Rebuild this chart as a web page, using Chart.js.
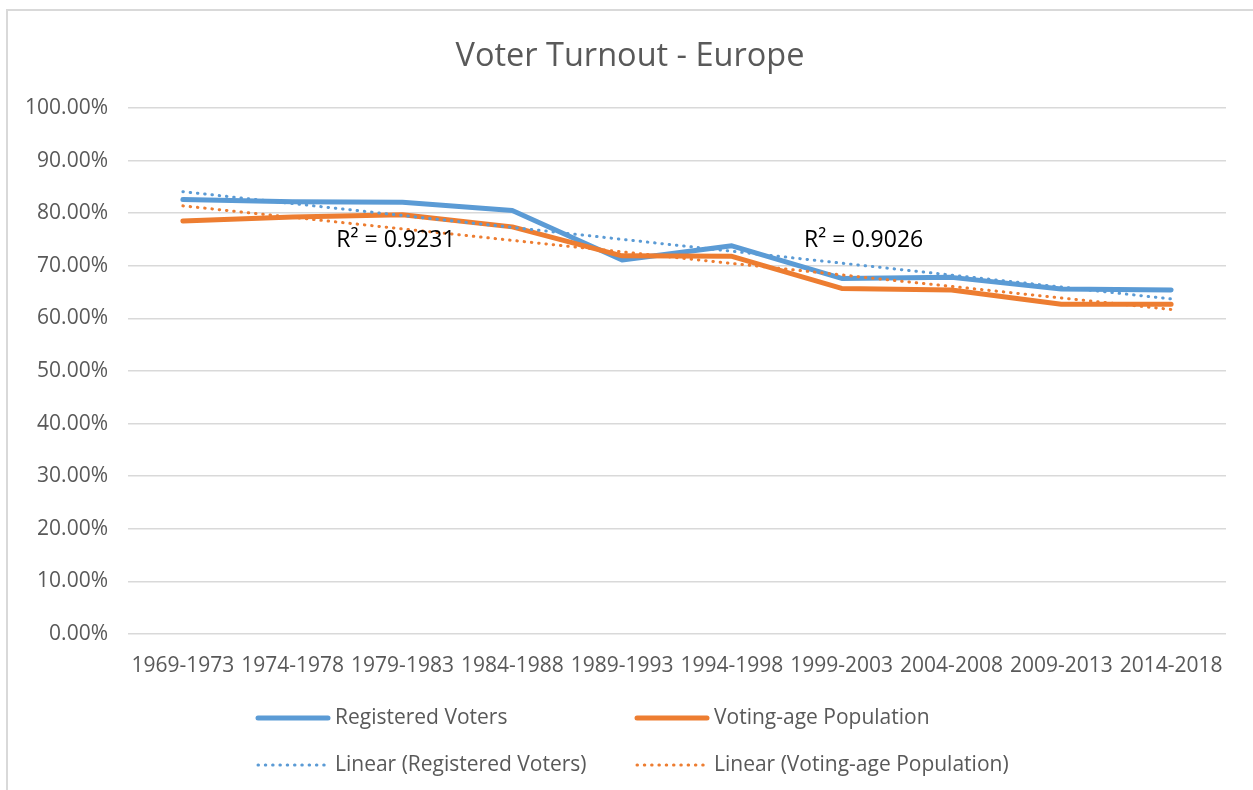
<!DOCTYPE html>
<html>
<head>
<meta charset="utf-8">
<script src="https://cdn.jsdelivr.net/npm/chart.js@4.4.0/dist/chart.umd.min.js"></script>
<style>
  html, body { margin: 0; padding: 0; background: #ffffff; overflow: hidden; }
  #frame { position: absolute; left: 6px; top: 9px; width: 1400px; height: 900px;
           border-left: 2px solid #d9d9d9; border-top: 2px solid #d9d9d9; }
  #wrap { position: absolute; left: 0; top: 0; width: 1253px; height: 790px; }
</style>
</head>
<body>
<div id="frame"></div>
<div id="wrap"><canvas id="c" width="1253" height="790"></canvas></div>
<script>
const categories = ['1969-1973','1974-1978','1979-1983','1984-1988','1989-1993','1994-1998','1999-2003','2004-2008','2009-2013','2014-2018'];
const registeredVoters = [82.6, 82.2, 82.1, 80.5, 71.1, 73.8, 67.6, 67.8, 65.6, 65.4];
const votingAgePopulation = [78.5, 79.3, 79.7, 77.4, 71.9, 71.8, 65.7, 65.4, 62.7, 62.7];
// trend line endpoints (first and last category)
const trendRegistered = [84.1, null, null, null, null, null, null, null, null, 63.7];
const trendVotingAge = [81.4, null, null, null, null, null, null, null, null, 61.7];
const r2Texts = ['R\u00B2 = 0.9231', 'R\u00B2 = 0.9026'];
const r2Index = [1.94, 6.2];
const r2Value = [74.9, 74.9];
const yTicks = [0, 10, 20, 30, 40, 50, 60, 70, 80, 90, 100];

const FONT = "'Open Sans', 'Noto Sans', sans-serif";
const BLUE = '#5b9bd5';
const ORANGE = '#ed7d31';

const r2Plugin = {
  id: 'r2labels',
  afterDatasetsDraw(chart) {
    const ctx = chart.ctx;
    const xs = chart.scales.x, ys = chart.scales.y;
    ctx.save();
    ctx.font = '23px ' + FONT;
    ctx.fillStyle = '#000000';
    ctx.textAlign = 'center';
    ctx.textBaseline = 'middle';
    for (let i = 0; i < r2Texts.length; i++) {
      ctx.fillText(r2Texts[i], xs.getPixelForValue(r2Index[i]), ys.getPixelForValue(r2Value[i]));
    }
    ctx.restore();
  }
};

const legendPlugin = {
  id: 'customLegend',
  afterDraw(chart, args, opts) {
    const ctx = chart.ctx;
    const items = opts.items;
    ctx.save();
    ctx.font = '21px ' + FONT;
    ctx.textBaseline = 'middle';
    ctx.textAlign = 'left';
    items.forEach(it => {
      const ds = chart.data.datasets[it.dataset];
      ctx.beginPath();
      ctx.strokeStyle = ds.borderColor;
      ctx.lineWidth = ds.borderWidth;
      ctx.lineCap = 'round';
      ctx.setLineDash(ds.borderDash || []);
      ctx.moveTo(it.x, it.y);
      ctx.lineTo(it.x + 70, it.y);
      ctx.stroke();
      ctx.setLineDash([]);
      ctx.fillStyle = '#595959';
      ctx.fillText(ds.label, it.x + 77, it.y);
    });
    ctx.restore();
  }
};

new Chart(document.getElementById('c'), {
  type: 'line',
  data: {
    labels: categories,
    datasets: [
      { label: 'Registered Voters', data: registeredVoters, borderColor: BLUE, backgroundColor: BLUE,
        borderWidth: 5, pointRadius: 0, borderCapStyle: 'round', borderJoinStyle: 'round', tension: 0, order: 3 },
      { label: 'Voting-age Population', data: votingAgePopulation, borderColor: ORANGE, backgroundColor: ORANGE,
        borderWidth: 5, pointRadius: 0, borderCapStyle: 'round', borderJoinStyle: 'round', tension: 0, order: 2 },
      { label: 'Linear (Registered Voters)', data: trendRegistered, borderColor: BLUE, backgroundColor: BLUE,
        borderWidth: 3, borderDash: [0.5, 6.8], borderCapStyle: 'round', pointRadius: 0, spanGaps: true, order: 1 },
      { label: 'Linear (Voting-age Population)', data: trendVotingAge, borderColor: ORANGE, backgroundColor: ORANGE,
        borderWidth: 3, borderDash: [0.5, 6.8], borderCapStyle: 'round', pointRadius: 0, spanGaps: true, order: 0 }
    ]
  },
  options: {
    responsive: false,
    animation: false,
    events: [],
    layout: { padding: { left: 7, right: 0, top: 0, bottom: 106 } },
    plugins: {
      legend: { display: false },
      tooltip: { enabled: false },
      title: {
        display: true,
        text: 'Voter Turnout - Europe',
        color: '#595959',
        font: { family: FONT, size: 32.5, weight: 'normal', lineHeight: 1.2 },
        padding: { top: 37.5, bottom: 31.5 }
      },
      customLegend: {
        items: [
          { dataset: 0, x: 258, y: 718 },
          { dataset: 1, x: 637, y: 718 },
          { dataset: 2, x: 258, y: 765 },
          { dataset: 3, x: 637, y: 765 }
        ]
      }
    },
    scales: {
      x: {
        offset: true,
        grid: { display: false, drawTicks: false },
        border: { display: false },
        ticks: { color: '#595959', font: { family: FONT, size: 21 }, padding: 19, maxRotation: 0, autoSkip: false },
        afterFit(scale) { scale.height = 50; }
      },
      y: {
        min: 0, max: 100,
        afterBuildTicks(scale) { scale.ticks = yTicks.map(v => ({ value: v })); },
        grid: { color: '#d9d9d9', lineWidth: 1.5, drawTicks: false },
        border: { display: false },
        ticks: { color: '#595959', font: { family: FONT, size: 21 }, padding: 20,
                 callback: v => Number(v).toFixed(2) + '%' },
        afterFit(scale) { scale.width = 121; }
      },
      spacer: {
        type: 'linear',
        position: 'right',
        display: true,
        grid: { display: false, drawTicks: false },
        border: { display: false },
        ticks: { display: false },
        afterFit(scale) { scale.width = 27; }
      }
    }
  },
  plugins: [r2Plugin, legendPlugin]
});
</script>
</body>
</html>
